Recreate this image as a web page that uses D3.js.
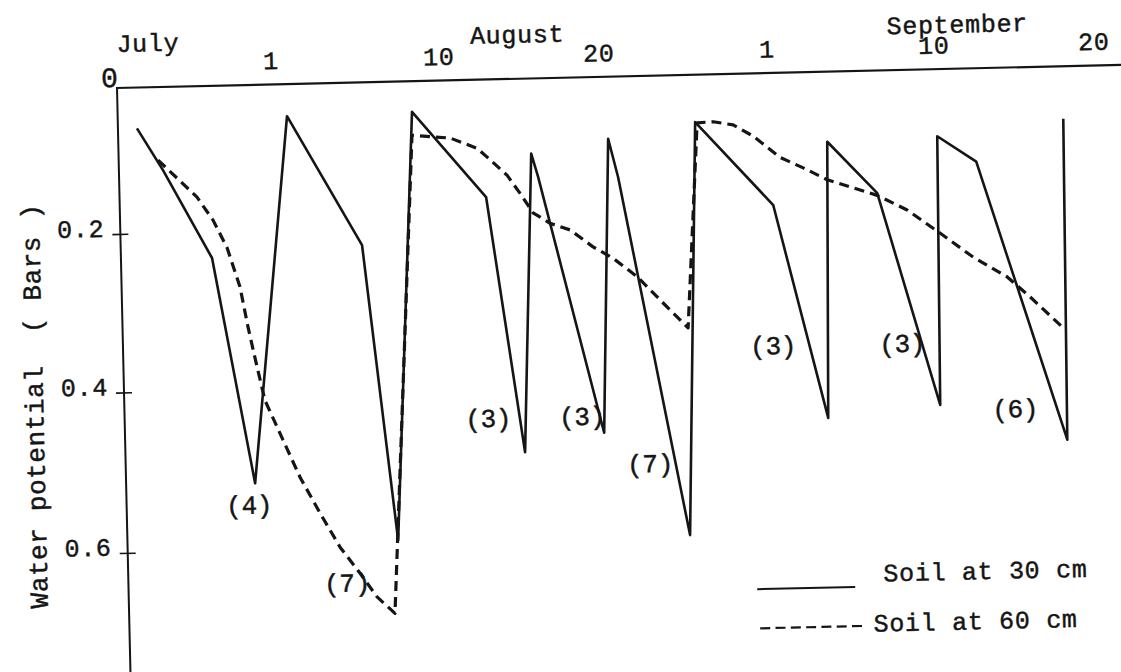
<!DOCTYPE html>
<html><head><meta charset="utf-8">
<script src="https://cdn.jsdelivr.net/npm/d3@7"></script>
<style>
html,body{margin:0;padding:0;background:#fff;}
svg{display:block;background:#fff;}
.mono{font-family:"Liberation Mono",monospace;fill:#151515;stroke:#151515;stroke-width:0.45px;}
</style></head><body>
<svg id="chart" width="1121" height="672"></svg>
<script>
// ---------- data (days counted from 1 July; values in bars) ----------
const dayTicks = [32, 41, 51, 63, 72, 82];
const dayTickLabels = ["1", "10", "20", "1", "10", "20"];
const monthNames = ["July", "August", "September"];
const monthLabelDays = [25.46, 45.95, 73.53];
const valueTicks = [0.2, 0.4, 0.6];
const valueTickLabels = ["0.2", "0.4", "0.6"];

const soil30Days = [24.77, 26.11, 28.63, 30.66, 32.82, 36.68, 38.25, 39.52, 43.78, 45.85,
  46.66, 47.06, 50.82, 51.56, 52.21, 56.76, 57.80, 63.18, 65.88, 66.17,
  68.80, 71.93, 72.12, 74.52, 79.81, 80.02];
const soil30Values = [0.056, 0.114, 0.233, 0.517, 0.044, 0.221, 0.592, 0.042, 0.161, 0.486,
  0.103, 0.135, 0.464, 0.085, 0.138, 0.594, 0.065, 0.181, 0.452, 0.096,
  0.168, 0.439, 0.092, 0.128, 0.486, 0.072];

const soil60Days = [25.86, 27.90, 28.73, 29.44, 30.09, 30.47, 30.91, 31.29, 32.21, 33.08,
  34.10, 35.13, 36.17, 37.05, 37.99, 39.49, 40.62, 41.62, 43.29, 44.08,
  45.13, 45.91, 46.69, 47.74, 48.98, 50.39, 51.72, 53.41, 55.01, 56.96,
  57.94, 59.09, 60.51, 61.92, 63.61, 64.84, 66.12, 67.51, 68.79, 70.39,
  72.17, 74.19, 76.29, 77.70, 79.72];
const soil60Values = [0.100, 0.152, 0.184, 0.220, 0.270, 0.321, 0.372, 0.414, 0.464, 0.511,
  0.556, 0.599, 0.632, 0.662, 0.683, 0.074, 0.077, 0.079, 0.094, 0.110,
  0.132, 0.157, 0.184, 0.199, 0.208, 0.230, 0.245, 0.269, 0.299, 0.335,
  0.066, 0.065, 0.070, 0.086, 0.116, 0.131, 0.148, 0.160, 0.171, 0.192,
  0.223, 0.254, 0.280, 0.306, 0.346];

const noteLabels = ["(4)", "(7)", "(3)", "(3)", "(7)", "(3)", "(3)", "(6)"];
const noteDays = [30.31, 35.46, 43.59, 49.46, 54.02, 63.0, 69.96, 76.6];
const noteValues = [0.546, 0.646, 0.445, 0.445, 0.506, 0.362, 0.363, 0.448];

const seriesNames = ["Soil at 30 cm", "Soil at 60 cm"];
const yTitle = "Water potential  ( Bars )";

// ---------- layout ----------
const ox = 117, oy = 88;                 // axes corner
const svg = d3.select("#chart");
const g = svg.append("g").attr("transform", `rotate(-1.32,${ox},${oy})`);

const x = d3.scaleLinear().domain(dayTicks).range([271, 439, 599, 767, 934, 1094]);
const y = d3.scaleLinear().domain([0, 0.2, 0.4, 0.6]).range([oy, 234, 392.5, 553]);

const ink = "#151515";

// axis lines
g.append("line").attr("x1", ox - 1).attr("x2", 1160).attr("y1", oy).attr("y2", oy)
  .attr("stroke", ink).attr("stroke-width", 2.2);
g.append("line").attr("x1", ox).attr("x2", ox).attr("y1", oy).attr("y2", 700)
  .attr("stroke", ink).attr("stroke-width", 2);

// top axis labels (days)
const xa = g.append("g").attr("transform", `translate(0,${oy})`)
  .call(d3.axisTop(x).tickValues(dayTicks).tickFormat((d, i) => dayTickLabels[i])
    .tickSize(0).tickPadding(15.5));
xa.select(".domain").remove();
xa.selectAll("text").attr("class", "mono").attr("font-size", 25)
  .style("letter-spacing", "0.7px").attr("font-family", null);

// month labels
g.selectAll("text.month").data(monthNames).join("text")
  .attr("class", "mono month")
  .attr("x", (d, i) => x(monthLabelDays[i])).attr("y", 52)
  .attr("text-anchor", "middle").attr("font-size", 25)
  .style("letter-spacing", "0.7px").text(d => d);

// left axis
const ya = g.append("g").attr("transform", `translate(${ox},0)`)
  .call(d3.axisLeft(y).tickValues(valueTicks).tickFormat((d, i) => valueTickLabels[i])
    .tickSize(0).tickPadding(16));
ya.select(".domain").remove();
ya.selectAll(".tick line").attr("x1", -8).attr("x2", 8).attr("stroke", ink).attr("stroke-width", 1.6);
ya.selectAll("text").attr("class", "mono").attr("font-size", 25).attr("y", -6)
  .style("letter-spacing", "0.7px").attr("font-family", null);

// zero label at the corner
g.append("text").attr("class", "mono").attr("x", ox + 1).attr("y", oy - 1)
  .attr("text-anchor", "end").attr("font-size", 28).text("0");

// y title
g.append("text").attr("class", "mono")
  .attr("transform", `translate(29,404) rotate(-90)`)
  .attr("text-anchor", "middle").attr("dominant-baseline", "central")
  .attr("font-size", 26).style("letter-spacing", "0.6px").style("white-space", "pre")
  .text(yTitle);

// series
const line = d3.line().x(d => x(d[0])).y(d => y(d[1]));
g.append("path").datum(d3.zip(soil60Days, soil60Values))
  .attr("d", line).attr("fill", "none").attr("stroke", ink)
  .attr("stroke-width", 3.2).attr("stroke-dasharray", "10,6").attr("stroke-linejoin", "round");
g.append("path").datum(d3.zip(soil30Days, soil30Values))
  .attr("d", line).attr("fill", "none").attr("stroke", ink)
  .attr("stroke-width", 2.6).attr("stroke-linejoin", "round");

// annotations
g.selectAll("text.note").data(noteLabels).join("text")
  .attr("class", "mono note")
  .attr("x", (d, i) => x(noteDays[i])).attr("y", (d, i) => y(noteValues[i]))
  .attr("text-anchor", "middle").attr("dominant-baseline", "central")
  .attr("font-size", 26).style("letter-spacing", "-0.3px").text(d => d);

// legend
g.append("line").attr("x1", 745.5).attr("x2", 843.5).attr("y1", 603.8).attr("y2", 603.8)
  .attr("stroke", ink).attr("stroke-width", 2);
g.append("text").attr("class", "mono").attr("x", 872).attr("y", 599)
  .attr("font-size", 25).style("letter-spacing", "0.7px").style("white-space", "pre")
  .text(seriesNames[0]);
g.append("line").attr("x1", 747.6).attr("x2", 852).attr("y1", 643).attr("y2", 643)
  .attr("stroke", ink).attr("stroke-width", 2.2).attr("stroke-dasharray", "10,5.3");
g.append("text").attr("class", "mono").attr("x", 861).attr("y", 649)
  .attr("font-size", 25).style("letter-spacing", "0.7px").style("white-space", "pre")
  .text(seriesNames[1]);
</script>
</body></html>
